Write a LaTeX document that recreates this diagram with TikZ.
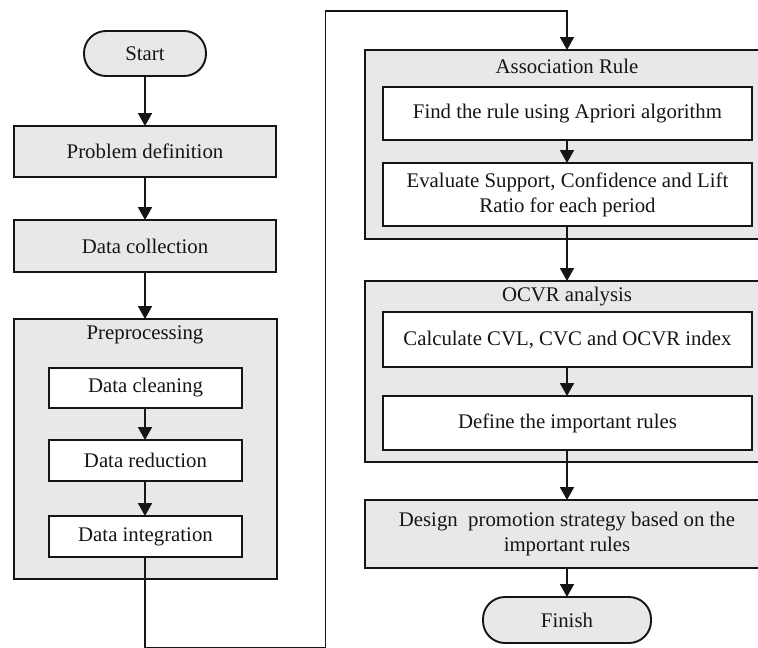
\documentclass[tikz,border=0pt]{standalone}
\usepackage{fontspec}
\setmainfont{Liberation Serif}
\usetikzlibrary{arrows.meta}
\definecolor{boxgray}{HTML}{E8E8E8}
\definecolor{ink}{HTML}{151515}
\begin{document}
\begin{tikzpicture}[x=1pt,y=-1pt,
  every node/.style={inner sep=0pt, outer sep=0pt, text=ink, font=\fontsize{20.8}{25}\selectfont},
  graybox/.style={draw=ink, line width=1.9pt, fill=boxgray, align=center},
  whitebox/.style={draw=ink, line width=1.9pt, fill=white, align=center},
  container/.style={draw=ink, line width=1.9pt, fill=boxgray},
  terminal/.style={draw=ink, line width=1.9pt, fill=boxgray, rounded corners=22pt},
  title/.style={anchor=center},
  conn/.style={draw=ink, line width=1.9pt},
  arr/.style={conn, -{Triangle[width=14pt,length=13pt]}}
]
\useasboundingbox (0,0) rectangle (758,648);
\clip (0,0) rectangle (758,648);
\fill[white] (0,0) rectangle (758,648);

% left column
\node[terminal, minimum width=122pt, minimum height=45pt] (start) at (145,53.5) {Start};
\node[graybox, minimum width=262pt, minimum height=51pt] (prob) at (145,151.5) {Problem definition};
\node[graybox, minimum width=262pt, minimum height=52pt] (coll) at (145,246) {Data collection};
\node[container, minimum width=263pt, minimum height=260pt] (prep) at (145.5,449) {};
\node[title] (preptitle) at (145,335) {Preprocessing};
\node[whitebox, minimum width=193pt, minimum height=40pt] (clean) at (145.5,388) {Data cleaning};
\node[whitebox, minimum width=193pt, minimum height=41pt] (red) at (145.5,460.5) {Data reduction};
\node[whitebox, minimum width=193pt, minimum height=41pt] (integ) at (145.5,536.5) {Data integration};

% right column
\node[container, minimum width=404pt, minimum height=189pt] (assoc) at (567,144.5) {};
\node[title] (assoctitle) at (567,66) {Association Rule};
\node[whitebox, minimum width=369pt, minimum height=53pt] (find) at (567.5,113.5) {Find the rule using Apriori algorithm};
\node[whitebox, minimum width=369pt, minimum height=63pt] (eval) at (567.5,194.5) {Evaluate Support, Confidence and Lift\\Ratio for each period};
\node[container, minimum width=404pt, minimum height=181pt] (ocvr) at (567,371.5) {};
\node[title] (ocvrtitle) at (567,297) {OCVR analysis};
\node[whitebox, minimum width=369pt, minimum height=55pt] (calc) at (567.5,339.5) {Calculate CVL, CVC and OCVR index};
\node[whitebox, minimum width=369pt, minimum height=54pt] (def) at (567.5,423) {Define the important rules};
\node[graybox, minimum width=404pt, minimum height=68pt] (design) at (567,534) {Design\ \ promotion strategy based on the\\important rules};
\node[terminal, minimum width=168pt, minimum height=46pt] (finish) at (567,620) {Finish};

% connectors
\draw[arr] (start) -- (prob);
\draw[arr] (prob) -- (coll);
\draw[arr] (coll.south) -- (prep.north -| coll.south);
\draw[arr] (clean.south -| start.south) -- (red.north -| start.south);
\draw[arr] (red.south -| start.south) -- (integ.north -| start.south);

\coordinate (b1) at (145,647.5);
\coordinate (b2) at (325.5,647.5);
\coordinate (t1) at (325.5,11);
\coordinate (t2) at (567,11);
\draw[arr] (integ.south -| start.south) -- (b1) -- (b2) -- (t1) -- (t2) -- (assoc.north);

\draw[arr] (find.south -| assoc.north) -- (eval.north -| assoc.north);
\draw[arr] (eval.south -| assoc.north) -- (ocvr.north);
\draw[arr] (calc.south -| assoc.north) -- (def.north -| assoc.north);
\draw[arr] (def.south -| assoc.north) -- (design.north);
\draw[arr] (design.south) -- (finish.north);
\end{tikzpicture}
\end{document}
